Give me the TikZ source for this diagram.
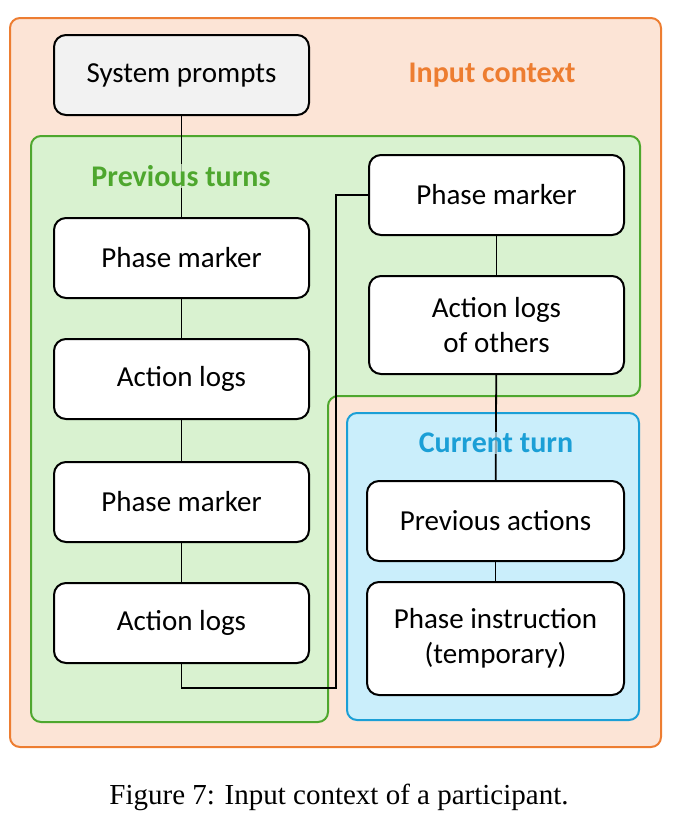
\documentclass[tikz,border=0pt]{standalone}
\usepackage{fontspec}
\setmainfont{Liberation Serif}
\newfontfamily\boxfont{Carlito}
\definecolor{orfill}{HTML}{FCE4D6}
\definecolor{ordraw}{HTML}{ED7D31}
\definecolor{grfill}{HTML}{D9F2D0}
\definecolor{grdraw}{HTML}{4EA72E}
\definecolor{blfill}{HTML}{CAEEFB}
\definecolor{bldraw}{HTML}{1B9FD6}
\begin{document}
\begin{tikzpicture}[x=1pt,y=-1pt,
  box/.style={draw=black,line width=2pt,rounded corners=12pt,fill=white,font=\boxfont\fontsize{29}{35}\selectfont,align=center},
  conn/.style={line width=1.8pt,black},
  ttl/.style={font=\boxfont\bfseries\fontsize{30}{34}\selectfont,inner sep=1pt}]
\useasboundingbox (0,0) rectangle (678,828);
\draw[draw=ordraw,fill=orfill,line width=2pt,rounded corners=10pt] (10,18) rectangle (661,747);
\draw[draw=grdraw,fill=grfill,line width=2pt,rounded corners=10pt]
  (31,136) -- (640,136) -- (640,396) -- (328,396) -- (328,722) -- (31,722) -- cycle;
\draw[draw=bldraw,fill=blfill,line width=2pt,rounded corners=10pt] (347,413) rectangle (639,720);
% connector end points
\coordinate (c1) at (181.5,688);
\coordinate (c2) at (336,688);
\coordinate (c3) at (336,195);
% nodes
\node[box,fill=gray!10,minimum width=255pt,minimum height=80pt] (sys) at (181.5,75) {System prompts};
\node[box,minimum width=255pt,minimum height=80pt] (pm1) at (181.5,258) {Phase marker};
\node[box,minimum width=255pt,minimum height=80pt] (al1) at (181.5,379) {Action logs};
\node[box,minimum width=255pt,minimum height=80pt] (pm2) at (181.5,502) {Phase marker};
\node[box,minimum width=255pt,minimum height=80pt] (al2) at (181.5,623) {Action logs};
\node[box,minimum width=255pt,minimum height=80pt] (pm3) at (496.5,195) {Phase marker};
\node[box,minimum width=255pt,minimum height=98pt] (alo) at (496.5,325) {Action logs\\of others};
\node[box,minimum width=257pt,minimum height=80pt] (pa) at (495.5,521) {Previous actions};
\node[box,minimum width=257pt,minimum height=113pt] (pi) at (495.5,638.5) {Phase instruction\\(temporary)};
% connectors
\draw[conn] (sys) -- (pm1);
\draw[conn] (pm1) -- (al1);
\draw[conn] (al1) -- (pm2);
\draw[conn] (pm2) -- (al2);
\draw[conn] (al2.south) -- (c1) -- (c2) -- (c3) -- (pm3.west);
\draw[conn] (pm3) -- (alo);
\draw[conn] (alo) -- (pa);
\draw[conn] (pa) -- (pi);
% titles
\node[ttl,text=ordraw] (tin) at (492,75) {Input context};
\node[ttl,text=grdraw,fill=grfill,fill opacity=0.7,text opacity=1] (tpt) at (181,176) {Previous turns};
\node[ttl,text=bldraw,fill=blfill,fill opacity=0.7,text opacity=1] (tct) at (496,443) {Current turn};
\node[font=\fontsize{29}{34}\selectfont] (cap) at (339,797) {Figure 7: Input context of a participant.};
\end{tikzpicture}
\end{document}
